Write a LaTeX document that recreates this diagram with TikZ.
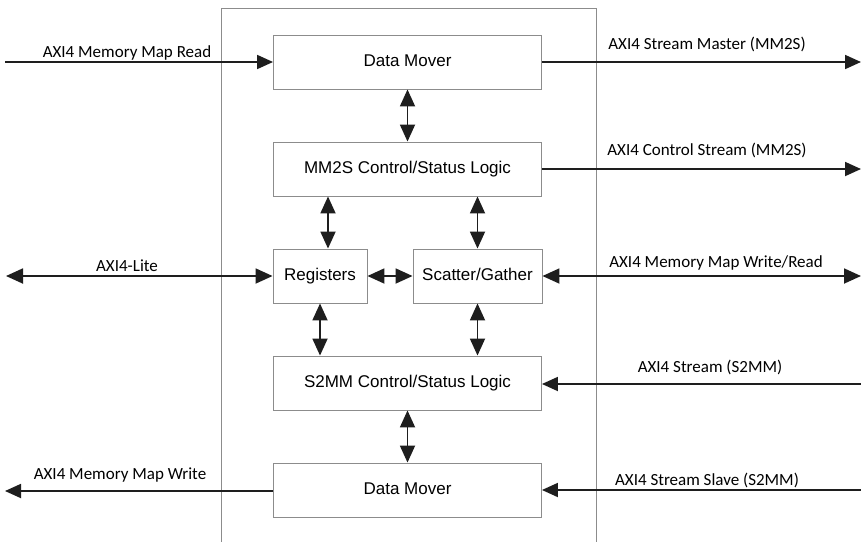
\documentclass[tikz,border=0pt]{standalone}
\usepackage{fontspec}
\setmainfont{Carlito}
\newfontfamily\boxfont{Liberation Sans}
\usetikzlibrary{arrows.meta,calc}
\definecolor{edgegray}{HTML}{8C8C8C}
\definecolor{linedark}{HTML}{1E1E1E}
\begin{document}
\begin{tikzpicture}[x=1pt,y=-1pt,
  block/.style={draw=edgegray,line width=0.9pt,rectangle,inner sep=0pt,
    minimum height=54pt,text height=12.5pt,text depth=3.5pt,
    font=\boxfont\fontsize{17}{20}\selectfont},
  sig/.style={draw=linedark,line width=1.8pt,-{Triangle[length=16pt,width=14pt]}},
  dbl/.style={draw=linedark,line width=1.8pt,{Triangle[length=17pt,width=15pt]}-{Triangle[length=17pt,width=15pt]}},
  lbl/.style={anchor=base,inner sep=0pt,font=\fontsize{17}{20}\selectfont}]
  \useasboundingbox[fill=white] (0,0) rectangle (861,541);

  % enclosing core outline, open at the bottom
  \draw[edgegray,line width=0.9pt] (221,545) -- (221,8) -- (596,8) -- (596,545);

  % functional blocks
  \node[block,minimum width=268pt] (dm1)  at (407.5,62)  {Data Mover};
  \node[block,minimum width=268pt] (mm2s) at (407.5,169) {MM2S Control/Status Logic};
  \node[block,minimum width=94pt]  (reg)  at (320,276)   {Registers};
  \node[block,minimum width=129pt] (sg)   at (477.5,276) {Scatter/Gather};
  \node[block,minimum width=268pt] (s2mm) at (407.5,383) {S2MM Control/Status Logic};
  \node[block,minimum width=268pt] (dm2)  at (407.5,490) {Data Mover};

  % external interface ends
  \coordinate (lrd) at (5,62);
  \coordinate (llite) at (6,276);
  \coordinate (lwr) at (5,491);
  \coordinate (rms) at (861,62);
  \coordinate (rcs) at (861,169);
  \coordinate (rmm) at (861,276);
  \coordinate (rss) at (861,384);
  \coordinate (rsl) at (861,490);

  % internal links
  \draw[dbl] (dm1.south) -- (mm2s.north);
  \coordinate (ra) at ([xshift=8pt]reg.north);
  \draw[dbl] (ra |- mm2s.south) -- (ra);
  \draw[dbl] (sg.north |- mm2s.south) -- (sg.north);
  \draw[dbl] (reg.south) -- (reg.south |- s2mm.north);
  \draw[dbl] (sg.south) -- (sg.south |- s2mm.north);
  \draw[dbl] (s2mm.south) -- (dm2.north);
  \draw[dbl] (reg.east) -- (sg.west);

  % external interfaces
  \draw[sig] (lrd) -- (lrd -| dm1.west);
  \draw[dbl] (llite) -- (reg.west);
  \draw[sig] (lwr -| dm2.west) -- (lwr);
  \draw[sig] (dm1.east) -- (rms);
  \draw[sig] (mm2s.east) -- (rcs);
  \draw[dbl] (sg.east) -- (rmm);
  \draw[sig] (rss) -- (rss -| s2mm.east);
  \draw[sig] (rsl) -- (dm2.east);

  % interface labels
  \node[lbl] (t1) at (127,57)  {AXI4 Memory Map Read};
  \node[lbl] (t2) at (127,271) {AXI4-Lite};
  \node[lbl] (t3) at (120,479) {AXI4 Memory Map Write};
  \node[lbl] (t4) at (707,49)  {AXI4 Stream Master (MM2S)};
  \node[lbl] (t5) at (707,155) {AXI4 Control Stream (MM2S)};
  \node[lbl] (t6) at (716,267) {AXI4 Memory Map Write/Read};
  \node[lbl] (t7) at (710,372) {AXI4 Stream (S2MM)};
  \node[lbl] (t8) at (707,485) {AXI4 Stream Slave (S2MM)};
\end{tikzpicture}
\end{document}
